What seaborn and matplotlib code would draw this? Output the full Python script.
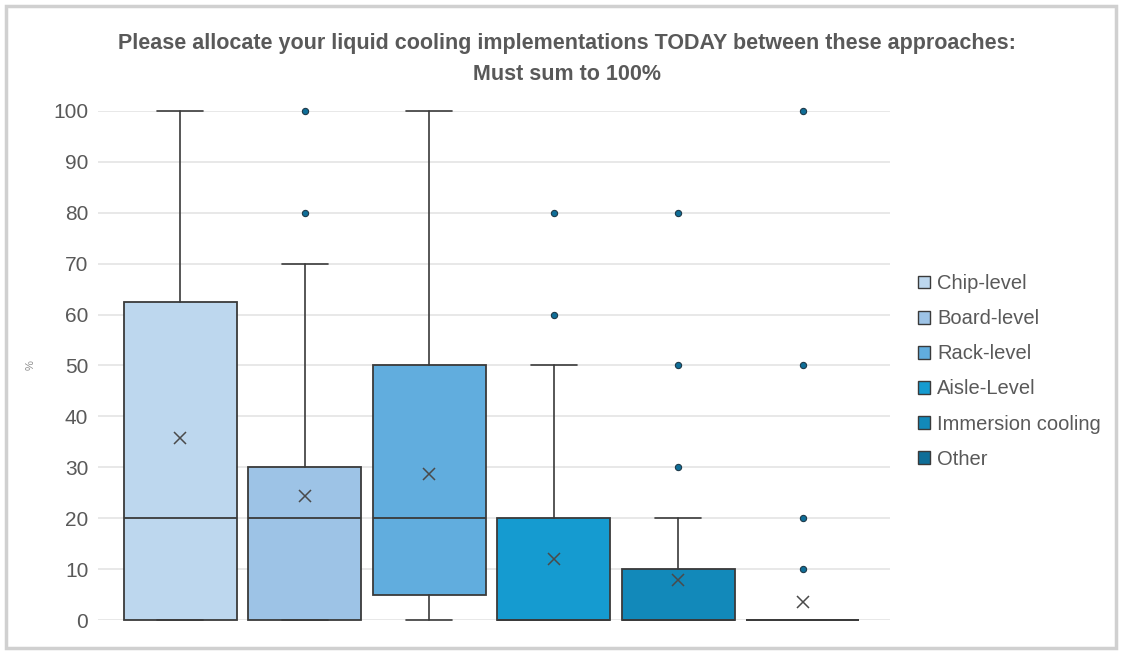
import matplotlib
matplotlib.use("Agg")
import matplotlib.pyplot as plt
import matplotlib.patches as mpatches
import seaborn as sns

# values (Excel box & whisker, exclusive quartiles)
categories = ['Chip-level', 'Board-level', 'Rack-level', 'Aisle-Level', 'Immersion cooling', 'Other']
q1 = [0, 0, 5, 0, 0, 0]
median = [20, 20, 20, 0, 0, 0]
q3 = [62.5, 30, 50, 20, 10, 0]
whis_lo = [0, 0, 0, 0, 0, 0]
whis_hi = [100, 70, 100, 50, 20, 0]
means = [35.7, 24.3, 28.6, 11.9, 7.8, 3.6]
outliers = [[], [80, 100], [], [60, 80], [30, 50, 80], [10, 20, 50, 100]]
colors = ['#BDD7EE', '#9DC3E6', '#61ADDE', '#159BD0', '#1289BA', '#0F6E98']

sns.set_theme(style="whitegrid")
plt.rcParams['font.family'] = ['Liberation Sans', 'DejaVu Sans']

fig = plt.figure(figsize=(11.23, 6.52), dpi=100)
ax = fig.add_axes([98 / 1123, 32 / 652, 792 / 1123, 509 / 652])

stats = []
for i, name in enumerate(categories):
    stats.append({'label': name, 'q1': q1[i], 'med': median[i], 'q3': q3[i],
                  'whislo': whis_lo[i], 'whishi': whis_hi[i],
                  'mean': means[i], 'fliers': outliers[i]})

bp = ax.bxp(stats, positions=range(len(categories)), widths=0.905,
            patch_artist=True, showmeans=True, showcaps=True,
            boxprops=dict(edgecolor='#3a3a3a', linewidth=1.3),
            medianprops=dict(color='#3a3a3a', linewidth=1.3),
            whiskerprops=dict(color='#3a3a3a', linewidth=1.2),
            capprops=dict(color='#3a3a3a', linewidth=1.2),
            meanprops=dict(marker='x', markeredgecolor='#4a4a4a', markersize=9, markeredgewidth=1.1),
            flierprops=dict(marker='o', markerfacecolor='#0F6E98', markeredgecolor='#1f3a4a',
                            markersize=4.5, markeredgewidth=0.8),
            capwidths=0.37, zorder=3)
for patch, c in zip(bp['boxes'], colors):
    patch.set_facecolor(c)
for group in bp.values():
    for art in group:
        art.set_clip_on(False)

ax.set_xlim(-0.66, 5.7)
ax.set_ylim(0, 100)
ax.set_yticks(range(0, 101, 10))
ax.set_xticks([])
ax.tick_params(axis='y', labelsize=15, labelcolor='#595959', pad=7, length=0)
ax.grid(axis='y', color='#e4e4e4', linewidth=1.2)
ax.grid(axis='x', visible=False)
for s in ax.spines.values():
    s.set_visible(False)
ax.set_ylabel('%', fontsize=8, color='#8c8c8c')
ax.yaxis.set_label_coords(-62 / 792, 0.5)

handles = [mpatches.Patch(facecolor=c, edgecolor='#3a3a3a', linewidth=1.0, label=n)
           for n, c in zip(categories, colors)]
leg = fig.legend(handles=handles, loc='upper left', bbox_to_anchor=(900 / 1123, 1 - 256 / 652),
                 frameon=False, fontsize=14.5, handlelength=0.6, handleheight=0.6,
                 handletextpad=0.35, labelspacing=0.8, labelcolor='#595959')

title_font = ['Liberation Sans Narrow', 'Liberation Sans']
fig.text(0.505, 1 - 44 / 652, 'Please allocate your liquid cooling implementations TODAY between these approaches:',
         ha='center', va='center', fontsize=15.5, fontweight='bold', color='#595959', family=title_font)
fig.text(0.505, 1 - 75 / 652, 'Must sum to 100%',
         ha='center', va='center', fontsize=15.5, fontweight='bold', color='#595959', family=title_font)

# chart frame like the Excel screenshot
fig.patches.append(mpatches.Rectangle((6 / 1123, 4 / 652), 1110 / 1123, 642 / 652,
                                      transform=fig.transFigure, fill=False,
                                      edgecolor='#d0d0d0', linewidth=2.5))

fig.savefig('out.png', dpi=100)
